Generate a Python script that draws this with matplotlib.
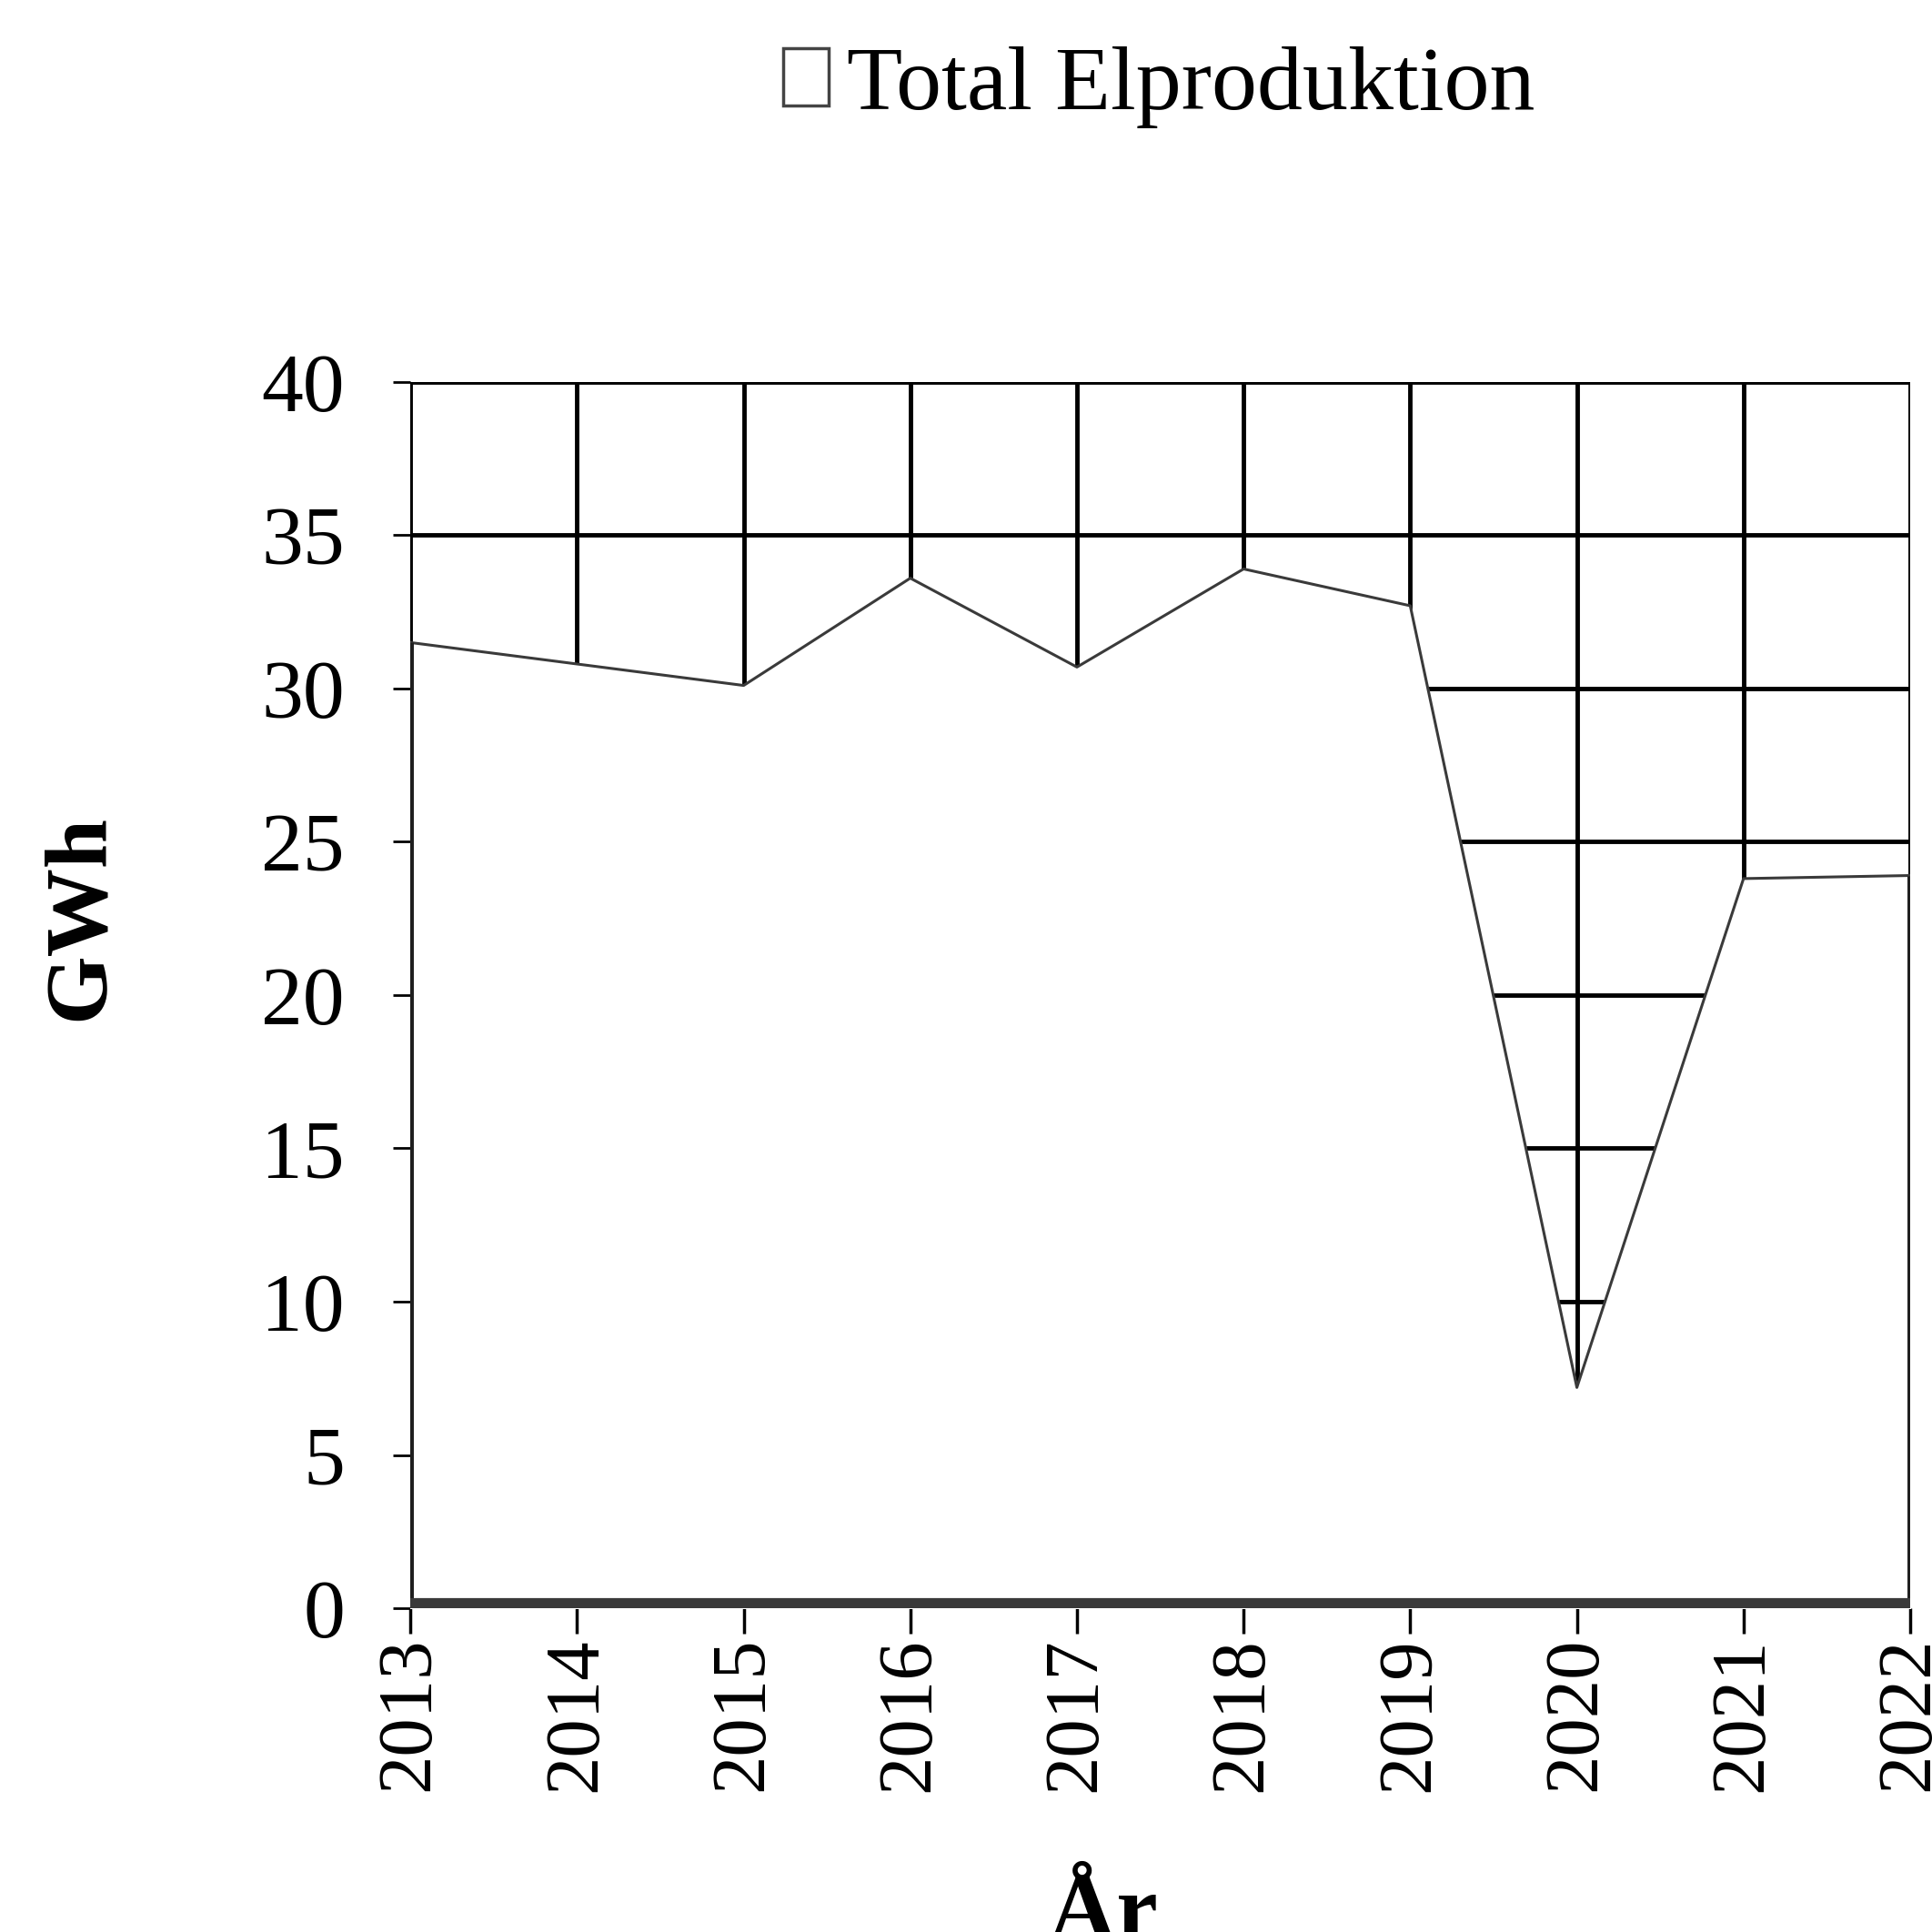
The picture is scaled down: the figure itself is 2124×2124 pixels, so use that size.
import numpy as np
import matplotlib.pyplot as plt
from matplotlib.patches import Patch

years = [2013, 2014, 2015, 2016, 2017, 2018, 2019, 2020, 2021, 2022]
# total electricity production, GWh
production = [31.5, 30.8, 30.1, 33.6, 30.7, 33.9, 32.7, 7.2, 23.8, 23.9]
yticks = [0, 5, 10, 15, 20, 25, 30, 35, 40]

plt.rcParams['font.family'] = ['Liberation Serif', 'DejaVu Serif']

fig = plt.figure(figsize=(21.24, 21.24), dpi=100)
ax = fig.add_axes([0.2124, 0.1676, 0.7763, 0.6347])

ax.set_xlim(years[0], years[-1])
ax.set_ylim(0, 40)
ax.set_xticks(years)
ax.set_xticklabels([str(y) for y in years], rotation=90)
ax.set_yticks(yticks)

ax.grid(True, color='black', linewidth=3.5, zorder=0)
ax.set_axisbelow(True)
for s in ax.spines.values():
    s.set_visible(False)

# white area hides the grid below the curve
ax.fill_between(years, 0, production, color='white', zorder=2)
ax.plot(years, production, color='#3a3a3a', linewidth=2.2, zorder=3)
ax.vlines([years[0], years[-1]], 0, [production[0], production[-1]],
          color='#1e1e1e', linewidth=5, zorder=3)
ax.plot([years[0], years[-1]], [0, 0], color='#3a3a3a', linewidth=16,
        solid_capstyle='butt', zorder=3)

ax.tick_params(axis='x', labelsize=61, length=20, width=2.5, pad=3)
ax.tick_params(axis='y', labelsize=66, length=14, width=2, pad=38)

fig.text(0.042, 0.525, 'GWh', rotation=90, fontsize=70, fontweight='bold',
         ha='center', va='center')
fig.text(0.571, 0.03, 'År', fontsize=74, fontweight='bold', ha='center', va='top')

handle = Patch(facecolor='white', edgecolor='#444444', linewidth=2.5)
fig.legend([handle], ['Total Elproduktion'], loc='center',
           bbox_to_anchor=(0.6, 0.955), frameon=False, fontsize=72,
           handlelength=0.5, handleheight=0.6, handletextpad=0.2)

fig.savefig('out.png', dpi=100, facecolor='white')
